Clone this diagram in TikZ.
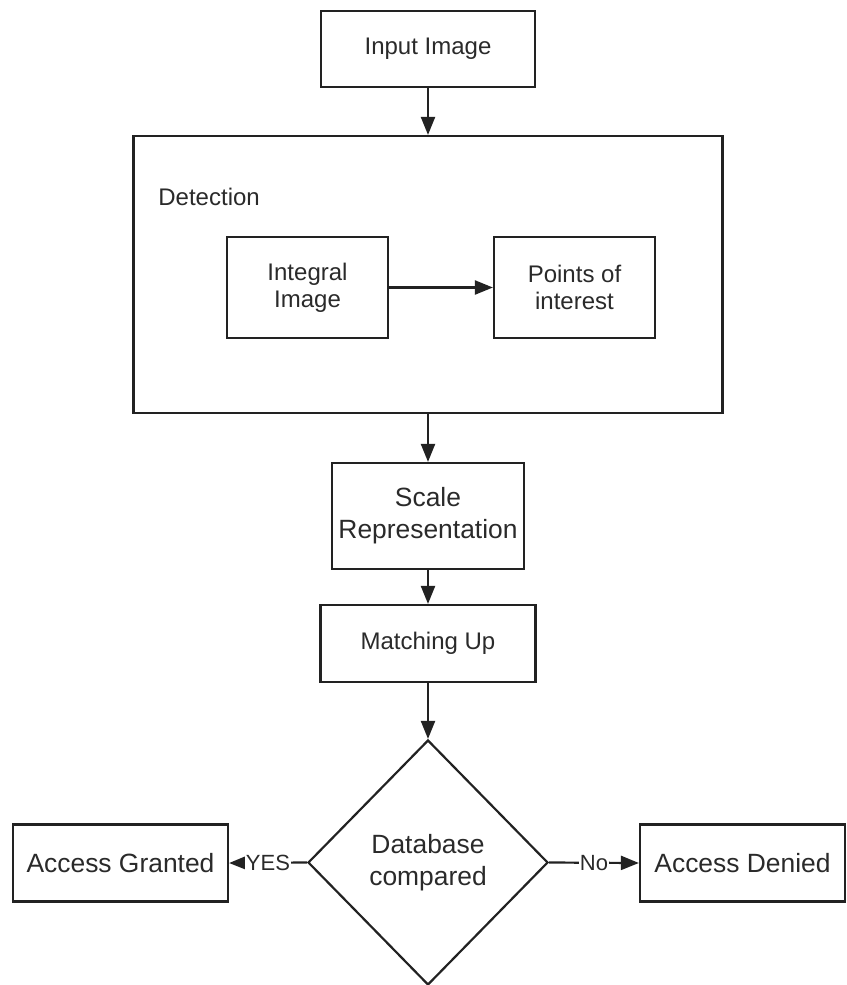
\documentclass[tikz,border=0pt]{standalone}
\usepackage{fontspec}
\setmainfont{Liberation Sans}
\usetikzlibrary{shapes.geometric,arrows.meta}
\definecolor{ink}{HTML}{222222}
\definecolor{txt}{HTML}{2A2A2A}
\tikzset{
  x=0.5pt, y=-0.5pt,
  box/.style={draw=ink, line width=1.1pt, inner sep=0pt, align=center, text=txt},
  small/.style={font=\fontsize{12}{13.5}\selectfont},
  big/.style={font=\fontsize{13.2}{16}\selectfont},
  arr/.style={draw=ink, line width=1.1pt, -{Triangle[length=9pt,width=7pt]}},
  lab/.style={fill=white, inner sep=0.6pt, text=txt, font=\fontsize{11}{13}\selectfont}
}
\begin{document}
\begin{tikzpicture}
\useasboundingbox (0,0) rectangle (846,985);
\node[box, small, minimum width=107pt, minimum height=38pt] (input) at (428,49) {Input Image};
\node[box, minimum width=294.5pt, minimum height=138.5pt] (detect) at (428,274.5) {};
\node[anchor=west, small, text=txt, inner sep=0pt] (dlab) at (158,197) {Detection};
\node[box, small, minimum width=80.5pt, minimum height=50.5pt] (integral) at (307.5,287.5) {Integral\\Image};
\node[box, small, minimum width=80.5pt, minimum height=50.5pt] (points) at (574.5,287.5) {Points of\\interest};
\node[box, big, minimum width=96pt, minimum height=53pt] (scale) at (428,516) {Scale\\Representation};
\node[box, small, minimum width=107.5pt, minimum height=38.5pt] (match) at (428,643.5) {Matching Up};
\node[box, big, shape=diamond, minimum width=120pt, minimum height=122.5pt] (db) at (428,862.5) {Database\\compared};
\node[box, big, minimum width=107.5pt, minimum height=38.5pt] (granted) at (120.5,863) {Access Granted};
\node[box, big, minimum width=102.5pt, minimum height=38.5pt] (denied) at (742.5,863) {Access Denied};
\draw[arr] (input) -- (detect);
\draw[arr] (integral) -- (points);
\draw[arr] (detect) -- (scale);
\draw[arr] (scale) -- (match);
\draw[arr] (match) -- (db);
\draw[arr] (db.west) -- node[lab] (yes) {YES} (granted.east);
\draw[arr] (db.east) -- node[lab] (no) {No} (denied.west);
\end{tikzpicture}
\end{document}
